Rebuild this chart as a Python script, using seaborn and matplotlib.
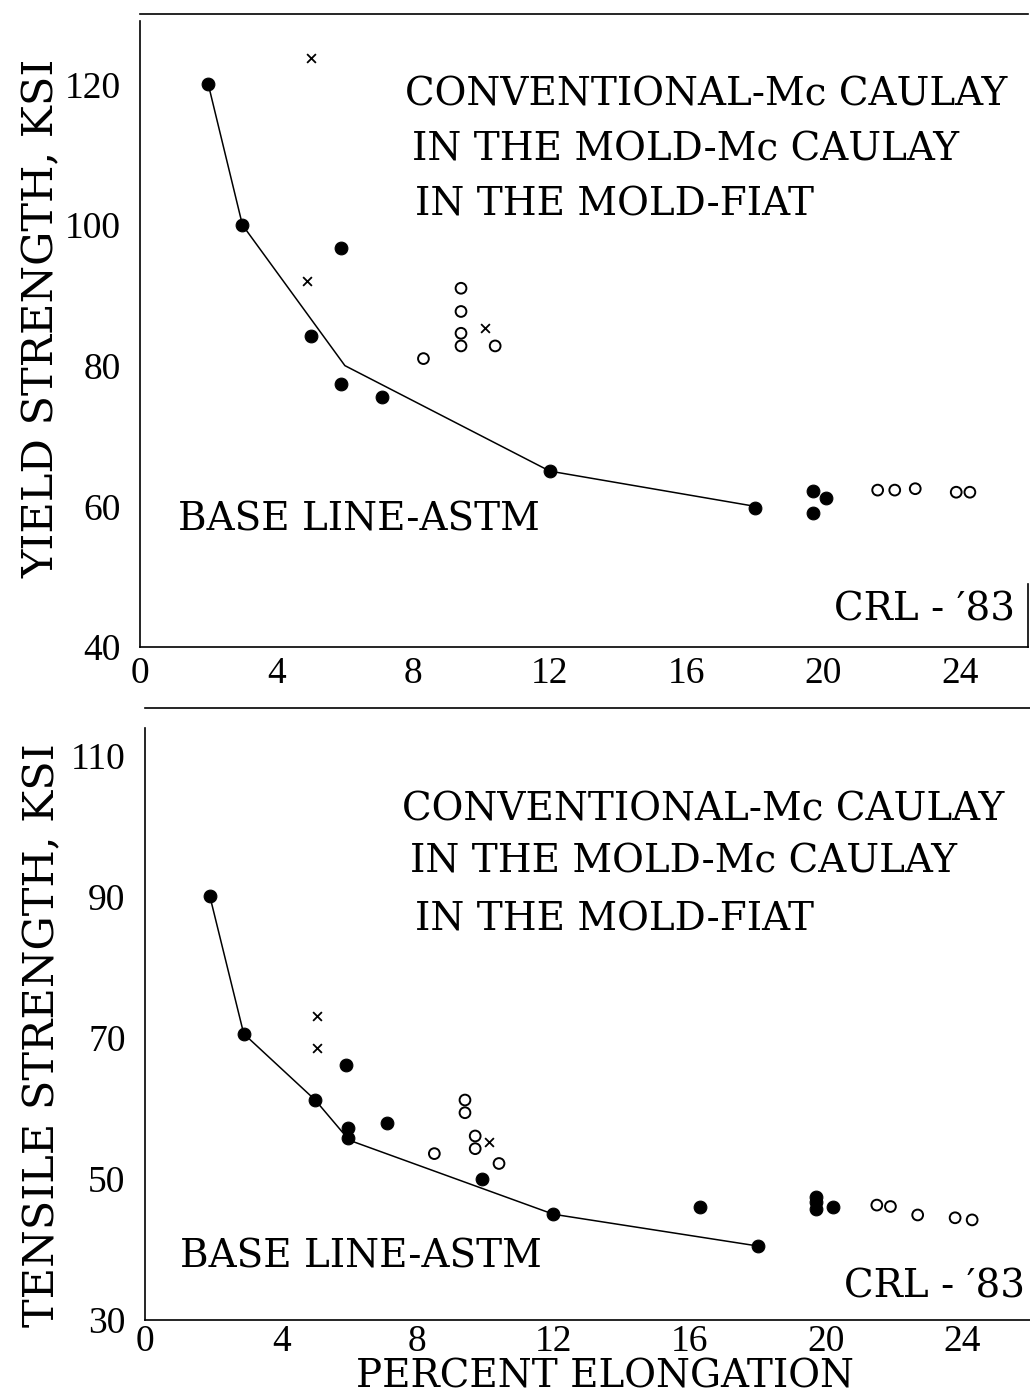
import matplotlib
matplotlib.use("Agg")
import matplotlib.pyplot as plt
import seaborn as sb
import pandas as pd

# yield strength panel
yield_base_x = [2, 3, 6, 12, 18]
yield_base_y = [120, 100, 80, 65, 60]
yield_dot_x = [2, 3, 5, 5.9, 5.9, 7.1, 12, 18, 19.7, 19.7, 20.1]
yield_dot_y = [120, 100, 84.2, 96.7, 77.4, 75.5, 65, 59.8, 62.2, 59, 61.2]
yield_cross_x = [5, 4.9, 10.1]
yield_cross_y = [123.8, 92, 85.4]
yield_ring_x = [9.4, 9.4, 9.4, 9.4, 10.4, 8.3, 21.6, 22.1, 22.7, 23.9, 24.3]
yield_ring_y = [91, 87.7, 84.6, 82.8, 82.8, 81, 62.3, 62.3, 62.5, 62, 62]

# tensile strength panel
tens_base_x = [1.9, 2.9, 5, 6, 12, 18]
tens_base_y = [90.2, 70.6, 61.2, 55.5, 45, 40.5]
tens_dot_x = [1.9, 2.9, 5, 5.9, 5.95, 5.95, 7.1, 9.9, 12, 16.3, 18, 19.7, 19.7, 19.7, 20.2]
tens_dot_y = [90.2, 70.6, 61.2, 66.1, 57.2, 55.8, 58, 50, 45, 46, 40.5, 47.5, 46.7, 45.8, 46]
tens_cross_x = [5.05, 5.05, 10.1]
tens_cross_y = [73.1, 68.6, 55.2]
tens_ring_x = [9.4, 9.4, 9.7, 9.7, 8.5, 10.4, 21.5, 21.9, 22.7, 23.8, 24.3]
tens_ring_y = [61.2, 59.4, 56.1, 54.3, 53.6, 52.2, 46.3, 46.1, 44.9, 44.5, 44.2]

legend_lines = ["CONVENTIONAL-Mc CAULAY", "IN THE MOLD-Mc CAULAY", "IN THE MOLD-FIAT"]

sb.set_style("white")
plt.rcParams['font.family'] = ['Liberation Serif', 'DejaVu Serif']
plt.rcParams['text.color'] = "black"
plt.rcParams['xtick.color'] = "black"
plt.rcParams['ytick.color'] = "black"
wide = ['DejaVu Serif', 'Liberation Serif']

fig = plt.figure(figsize = (10.3, 13.97), dpi = 100)
ax1 = fig.add_axes([0.1359, 0.5369, 0.8621, 0.4531])
ax2 = fig.add_axes([0.1408, 0.0551, 0.8592, 0.4381])


def panel(ax, bx, by, dx, dy, cx, cy, rx, ry, ylim, yticks, ytop, xpad):
    sb.lineplot(x = bx, y = by, ax = ax, color = "black", lw = 1.1, sort = False)
    sb.scatterplot(x = dx, y = dy, ax = ax, color = "black", s = 85, edgecolor = "black")
    sb.scatterplot(x = cx, y = cy, ax = ax, color = "black", marker = "x", s = 40, linewidth = 1.3)
    sb.scatterplot(x = rx, y = ry, ax = ax, facecolor = "none", edgecolor = "black", s = 60, linewidth = 1.4)
    ax.set_xlim(0, 26)
    ax.set_ylim(*ylim)
    ax.set_xticks([0, 4, 8, 12, 16, 20, 24])
    ax.set_yticks(yticks)
    ax.tick_params(labelsize = 27, length = 3, direction = "in")
    ax.tick_params(axis = "x", pad = xpad)
    ax.tick_params(axis = "y", pad = 14)
    ax.spines["left"].set_bounds(ylim[0], ytop)
    for s in ["left", "bottom", "top", "right"]:
        ax.spines[s].set_color("black")
        ax.spines[s].set_linewidth(1.2)


panel(ax1, yield_base_x, yield_base_y, yield_dot_x, yield_dot_y, yield_cross_x, yield_cross_y,
      yield_ring_x, yield_ring_y, (40, 130), [40, 60, 80, 100, 120], 129, 7)
panel(ax2, tens_base_x, tens_base_y, tens_dot_x, tens_dot_y, tens_cross_x, tens_cross_y,
      tens_ring_x, tens_ring_y, (30, 116.8), [30, 50, 70, 90, 110], 114, 3)
ax1.spines["right"].set_bounds(40, 49)
ax2.spines["right"].set_visible(False)

for txt, x, y in zip(legend_lines, [0.393, 0.400, 0.403], [0.932, 0.8926, 0.8533]):
    fig.text(x, y, txt, fontsize = 28, va = "center", ha = "left", family = wide)
for txt, x, y in zip(legend_lines, [0.390, 0.398, 0.403], [0.4202, 0.383, 0.3415]):
    fig.text(x, y, txt, fontsize = 28, va = "center", ha = "left", family = wide)

fig.text(0.173, 0.6278, "BASE LINE-ASTM", fontsize = 28, va = "center", family = wide)
fig.text(0.175, 0.1002, "BASE LINE-ASTM", fontsize = 28, va = "center", family = wide)
fig.text(0.985, 0.5633, "CRL - ′83", fontsize = 28, va = "center", ha = "right", family = wide)
fig.text(0.995, 0.0787, "CRL - ′83", fontsize = 28, va = "center", ha = "right", family = wide)

fig.text(0.041, 0.772, "YIELD STRENGTH, KSI", fontsize = 31, rotation = 90, va = "center", ha = "center", family = wide)
fig.text(0.041, 0.259, "TENSILE STRENGTH, KSI", fontsize = 31, rotation = 90, va = "center", ha = "center", family = wide)
fig.text(0.587, 1 - 1387 / 1397, "PERCENT ELONGATION", fontsize = 28, va = "baseline", ha = "center", family = wide)

fig.savefig("out.png", dpi = 100)
